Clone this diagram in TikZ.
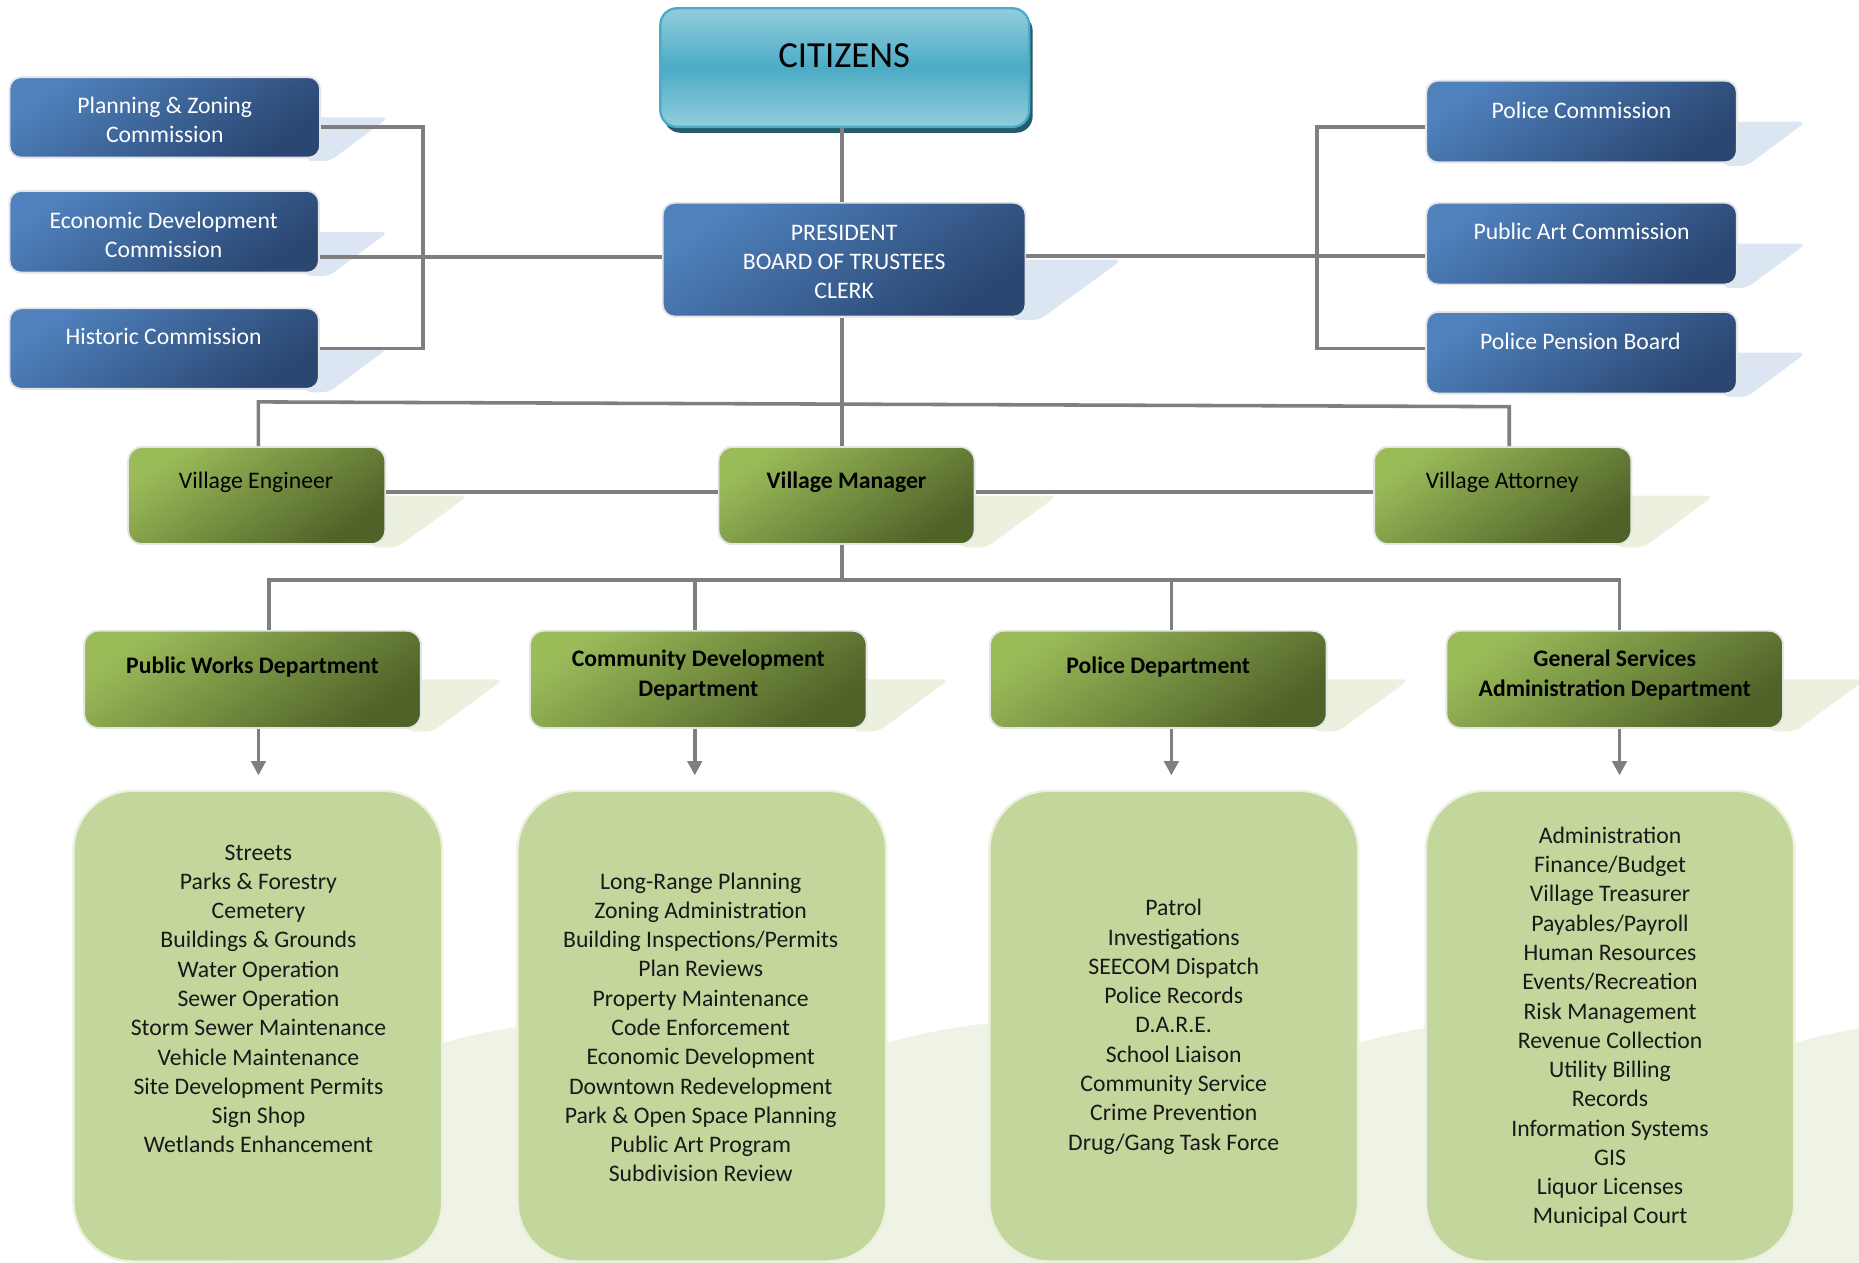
\documentclass[tikz,border=0pt]{standalone}
\usepackage{fontspec}
\setmainfont{Carlito}
\usetikzlibrary{arrows.meta,calc}
\definecolor{bluelt}{HTML}{4F81BD}
\definecolor{bluedk}{HTML}{2A4671}
\definecolor{blueshadow}{HTML}{DCE6F2}
\definecolor{greenlt}{HTML}{9BBB59}
\definecolor{greendk}{HTML}{4F6228}
\definecolor{greenshadow}{HTML}{EBF1DE}
\definecolor{ellshadow}{HTML}{EEF3E6}
\definecolor{listfill}{HTML}{C3D69B}
\definecolor{cyanmid}{HTML}{4BACC6}
\definecolor{cyanlt}{HTML}{93CDDD}
\definecolor{cyandk}{HTML}{245C6C}
\definecolor{linegray}{HTML}{7F7F7F}
\tikzset{
  boxbase/.style={rectangle, inner sep=0pt, draw=white!90!black, line width=0.8pt},
  bluebox/.style={boxbase, rounded corners=5pt, top color=bluelt, bottom color=bluedk, shading angle=35},
  greenbox/.style={boxbase, rounded corners=6pt, top color=greenlt, bottom color=greendk, shading angle=35},
  citbox/.style={rectangle, inner sep=0pt, rounded corners=7pt, draw=cyanmid, line width=1pt,
     top color=cyanlt, bottom color=cyanlt, middle color=cyanmid, minimum width=155.5pt, minimum height=50pt},
  whitetxt/.style={text=white, align=center, inner sep=0pt, font=\fontsize{10}{12.2}\selectfont},
  blacktxt/.style={text=black, align=center, inner sep=0pt, font=\fontsize{10}{12.2}\selectfont},
  boldtxt/.style={text=black, align=center, inner sep=0pt, font=\bfseries\fontsize{10}{12.4}\selectfont},
  listbox/.style={rectangle, inner sep=0pt, rounded corners=25pt, fill=listfill, draw=greenshadow, line width=1pt,
     minimum width=155.5pt, minimum height=198.5pt},
  listtxt/.style={text=black!90, align=center, inner sep=0pt, font=\fontsize{10}{12.35}\selectfont},
  conn/.style={draw=linegray, line width=1.5pt},
  arrowconn/.style={conn, -{Triangle[width=6pt,length=6pt]}},
  bshad/.style={fill=blueshadow, rounded corners=3pt},
  gshad/.style={fill=greenshadow, rounded corners=3pt},
}
% shadow: #1 right edge, #2 top, #3 bottom
\newcommand{\boxshadow}[4]{\path[#4] ({#1-12},{(#2+#3)/2}) -- ({#1+0.85*(#3-#2)},{(#2+#3)/2}) -- ({#1+0.12*(#3-#2)},{#3+3}) -- ({#1-12},{#3+3}) -- cycle;}
\begin{document}
\begin{tikzpicture}[x=0.5pt,y=-0.5pt]
\useasboundingbox (0,0) rectangle (1568,1065);

% ---------- faint reflections behind the lists ----------
\fill[ellshadow] (520,1050) ellipse [x radius=330, y radius=190];
\fill[ellshadow] (894,1050) ellipse [x radius=330, y radius=190];
\fill[ellshadow] (1292,1050) ellipse [x radius=330, y radius=190];
\fill[ellshadow] (1660,1050) ellipse [x radius=330, y radius=190];

% ---------- shadows ----------
\boxshadow{270}{65}{133}{bshad}
\boxshadow{269}{161}{230}{bshad}
\boxshadow{269}{260}{328}{bshad}
\boxshadow{1465}{68}{137}{bshad}
\boxshadow{1465}{171}{240}{bshad}
\boxshadow{1465}{263}{332}{bshad}
\boxshadow{865}{171}{267}{bshad}
\boxshadow{325}{377}{459}{gshad}
\boxshadow{822}{377}{459}{gshad}
\boxshadow{1376}{377}{459}{gshad}
\boxshadow{355}{532}{614}{gshad}
\boxshadow{731}{532}{614}{gshad}
\boxshadow{1119}{532}{614}{gshad}
\boxshadow{1504}{532}{614}{gshad}

% ---------- top ----------
\fill[cyandk, rounded corners=7pt] (560,12) rectangle (871,112);
\node[citbox] (cit) at (712.5,57) {};
\node[text=black, inner sep=0pt, font=\fontsize{15.5}{18}\selectfont] (citt) at (712,47) {CITIZENS};

\node[bluebox, minimum width=153pt, minimum height=48pt] (pres) at (712,219) {};
\node[whitetxt] (prest) at (712,221) {PRESIDENT\\BOARD OF TRUSTEES\\CLERK};

% ---------- commissions ----------
\node[bluebox, minimum width=131pt, minimum height=34pt] (pz) at (139,99) {};
\node[whitetxt] (pzt) at (139,101) {Planning \& Zoning\\Commission};
\node[bluebox, minimum width=130.5pt, minimum height=34.5pt] (ed) at (138.5,195.5) {};
\node[whitetxt] (edt) at (138,198) {Economic Development\\Commission};
\node[bluebox, minimum width=130.5pt, minimum height=34pt] (hc) at (138.5,294) {};
\node[whitetxt] (hct) at (138,284) {Historic Commission};

\node[bluebox, minimum width=131pt, minimum height=34.5pt] (pc) at (1334,102.5) {};
\node[whitetxt] (pct) at (1334,93) {Police Commission};
\node[bluebox, minimum width=131pt, minimum height=34.5pt] (pa) at (1334,205.5) {};
\node[whitetxt] (pat) at (1334,195) {Public Art Commission};
\node[bluebox, minimum width=131pt, minimum height=34.5pt] (pp) at (1334,297.5) {};
\node[whitetxt] (ppt) at (1333,288) {Police Pension Board};

% ---------- village officers ----------
\node[greenbox, minimum width=108.5pt, minimum height=41pt] (ve) at (216.5,418) {};
\node[blacktxt] (vet) at (216,407) {Village Engineer};
\node[greenbox, minimum width=108pt, minimum height=41pt] (vm) at (714,418) {};
\node[boldtxt] (vmt) at (714,407) {Village Manager};
\node[greenbox, minimum width=108.5pt, minimum height=41pt] (va) at (1267.5,418) {};
\node[blacktxt] (vat) at (1267,407) {Village Attorney};

% ---------- departments ----------
\node[greenbox, minimum width=142pt, minimum height=41pt] (pw) at (213,573) {};
\node[boldtxt] (pwt) at (213,563) {Public Works Department};
\node[greenbox, minimum width=142pt, minimum height=41pt] (cd) at (589,573) {};
\node[boldtxt] (cdt) at (589,569.5) {Community Development\\Department};
\node[greenbox, minimum width=142pt, minimum height=41pt] (pd) at (977,573) {};
\node[boldtxt] (pdt) at (977,563) {Police Department};
\node[greenbox, minimum width=142pt, minimum height=41pt] (gs) at (1362,573) {};
\node[boldtxt] (gst) at (1362,569.5) {General Services\\Administration Department};

% ---------- lists ----------
\node[listbox] (pwl) at (217.5,865.5) {};
\node[listtxt] (pwlt) at (218,842.5) {Streets\\Parks \& Forestry\\Cemetery\\Buildings \& Grounds\\Water Operation\\Sewer Operation\\Storm Sewer Maintenance\\Vehicle Maintenance\\Site Development Permits\\Sign Shop\\Wetlands Enhancement};
\node[listbox] (cdl) at (592,865.5) {};
\node[listtxt] (cdlt) at (591,866.5) {Long-Range Planning\\Zoning Administration\\Building Inspections/Permits\\Plan Reviews\\Property Maintenance\\Code Enforcement\\Economic Development\\Downtown Redevelopment\\Park \& Open Space Planning\\Public Art Program\\Subdivision Review};
\node[listbox] (pdl) at (990,865.5) {};
\node[listtxt] (pdlt) at (990,866) {Patrol\\Investigations\\SEECOM Dispatch\\Police Records\\D.A.R.E.\\School Liaison\\Community Service\\Crime Prevention\\Drug/Gang Task Force};
\node[listbox] (gsl) at (1358,865.5) {};
\node[listtxt] (gslt) at (1358,866.5) {Administration\\Finance/Budget\\Village Treasurer\\Payables/Payroll\\Human Resources\\Events/Recreation\\Risk Management\\Revenue Collection\\Utility Billing\\Records\\Information Systems\\GIS\\Liquor Licenses\\Municipal Court};

% ---------- connector coordinates ----------
\coordinate (mx) at (710,0);
\coordinate (lbt) at (357,107);
\coordinate (lbb) at (357,294);
\coordinate (lm) at (357,217);
\coordinate (rbt) at (1111,107);
\coordinate (rbb) at (1111,294);
\coordinate (rm) at (1111,216);
\coordinate (busL) at (218,339);
\coordinate (busR) at (1273,343);
\coordinate (vl) at (0,415);
\coordinate (bus2) at (710,489);
\coordinate (d1) at (227,489);
\coordinate (d2) at (586,489);
\coordinate (d3) at (988,489);
\coordinate (d4) at (1366,489);
\coordinate (a1) at (218,0);
\coordinate (a2) at (586,0);
\coordinate (a3) at (988,0);
\coordinate (a4) at (1366,0);

% ---------- connectors ----------
\draw[conn] (cit.south -| mx) -- (pres.north -| mx);
\draw[conn] (pz.east |- lbt) -- (lbt) -- (lbb) -- (hc.east |- lbb);
\draw[conn] (ed.east |- lm) -- (pres.west |- lm);
\draw[conn] (pc.west |- rbt) -- (rbt) -- (rbb) -- (pp.west |- rbb);
\draw[conn] (pres.east |- rm) -- (pa.west |- rm);
\draw[conn] (pres.south -| mx) -- (vm.north -| mx);
\draw[conn] (ve.north -| busL) -- (busL) -- (busR) -- (va.north -| busR);
\draw[conn] (ve.east |- vl) -- (vm.west |- vl);
\draw[conn] (vm.east |- vl) -- (va.west |- vl);
\draw[conn] (vm.south -| mx) -- (bus2);
\draw[conn] (pw.north -| d1) -- (d1) -- (d4) -- (gs.north -| d4);
\draw[conn] (d2) -- (cd.north -| d2);
\draw[conn] (d3) -- (pd.north -| d3);
\draw[arrowconn] (pw.south -| a1) -- ($(pwl.north -| a1)+(0,-12)$);
\draw[arrowconn] (cd.south -| a2) -- ($(cdl.north -| a2)+(0,-12)$);
\draw[arrowconn] (pd.south -| a3) -- ($(pdl.north -| a3)+(0,-12)$);
\draw[arrowconn] (gs.south -| a4) -- ($(gsl.north -| a4)+(0,-12)$);
\end{tikzpicture}
\end{document}
